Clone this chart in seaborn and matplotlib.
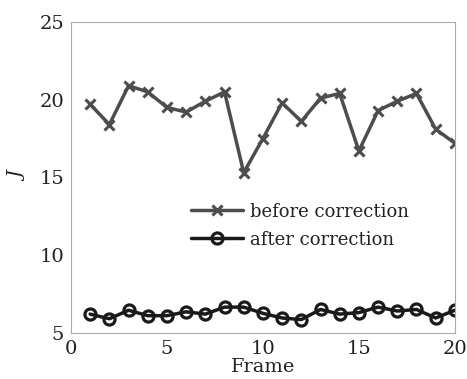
import numpy as np
import pandas as pd
import matplotlib
matplotlib.use("Agg")
import matplotlib.pyplot as plt
import seaborn as sns

frames = list(range(1, 21))
before = [19.7, 18.4, 20.9, 20.5, 19.5, 19.2, 19.9, 20.5, 15.3, 17.5,
          19.8, 18.6, 20.1, 20.4, 16.7, 19.3, 19.9, 20.4, 18.1, 17.2]
after = [6.2, 5.9, 6.45, 6.1, 6.1, 6.35, 6.2, 6.65, 6.65, 6.25,
         5.95, 5.85, 6.5, 6.2, 6.3, 6.65, 6.4, 6.5, 5.95, 6.45]

df = pd.DataFrame({"Frame": frames, "before correction": before, "after correction": after})

sns.set_style("white")
plt.rcParams['font.family'] = ['DejaVu Serif']

fig = plt.figure(figsize=(4.67, 3.79), dpi=100)
ax = fig.add_axes([0.152, 0.122, 0.822, 0.82])

sns.lineplot(data=df, x="Frame", y="before correction", ax=ax, color="#4d4d4d",
             marker="x", markersize=7, markeredgewidth=2.2, markeredgecolor="#4d4d4d",
             linewidth=2.5, label="before correction")
sns.lineplot(data=df, x="Frame", y="after correction", ax=ax, color="#1a1a1a",
             marker="o", markersize=8, markerfacecolor="none", markeredgewidth=2.3,
             markeredgecolor="#1a1a1a", linewidth=2.5, label="after correction")

ax.set_xlim(0, 20)
ax.set_ylim(5, 25)
ax.set_xticks([0, 5, 10, 15, 20])
ax.set_yticks([5, 10, 15, 20, 25])
ax.tick_params(direction="in", length=3, labelsize=14, color="#999999", pad=5,
               labelcolor="#222222")
for s in ax.spines.values():
    s.set_color("#aaaaaa")
    s.set_linewidth(0.8)
ax.set_xlabel("Frame", fontsize=14, labelpad=0, color="#222222")
ax.set_ylabel("J", fontsize=14, style="italic", labelpad=8, color="#222222")

leg = ax.legend(loc="center left", bbox_to_anchor=(0.27, 0.345), frameon=False,
                fontsize=13, handlelength=2.9, labelspacing=0.55, handletextpad=0.35)
for t in leg.get_texts():
    t.set_color("#222222")

fig.savefig("out.png", dpi=100)
